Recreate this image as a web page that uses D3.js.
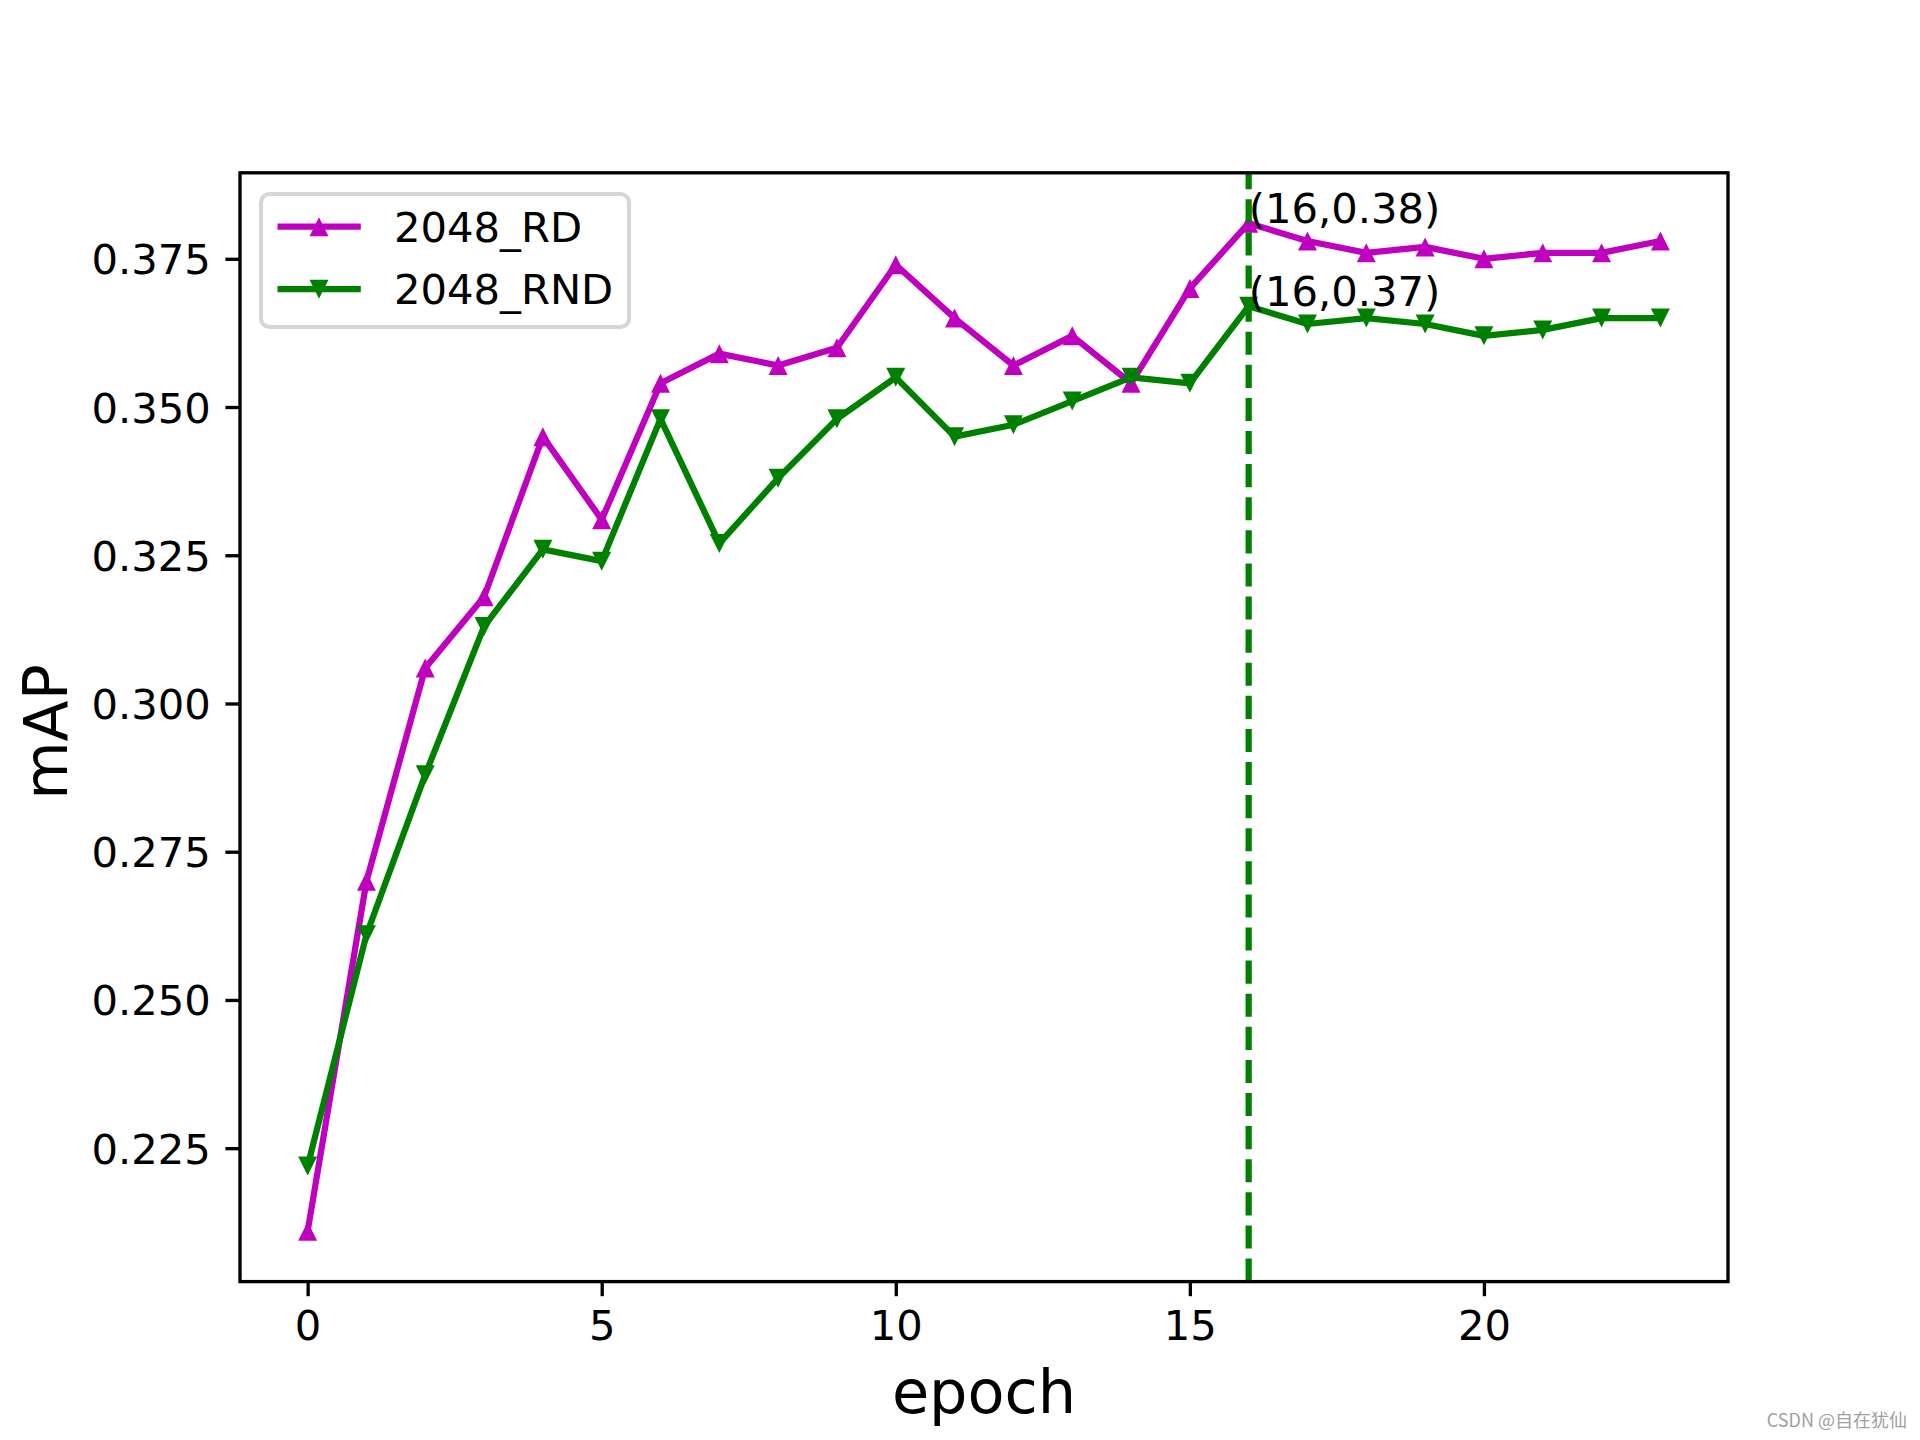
<!DOCTYPE html>
<html>
<head>
<meta charset="utf-8">
<script src="https://d3js.org/d3.v7.min.js"></script>
<style>
body { margin: 0; background: #fff; }
svg text { font-family: 'DejaVu Sans', sans-serif; }
</style>
</head>
<body>
<script>
// data
var epochs = d3.range(0, 24);
var rd  = [0.211, 0.270, 0.306, 0.318, 0.345, 0.331, 0.354, 0.359, 0.357, 0.360, 0.374, 0.365,
           0.357, 0.362, 0.354, 0.370, 0.381, 0.378, 0.376, 0.377, 0.375, 0.376, 0.376, 0.378];
var rnd = [0.222, 0.261, 0.288, 0.313, 0.326, 0.324, 0.348, 0.327, 0.338, 0.348, 0.355, 0.345,
           0.347, 0.351, 0.355, 0.354, 0.367, 0.364, 0.365, 0.364, 0.362, 0.363, 0.365, 0.365];
var seriesNames = ['2048_RD', '2048_RND'];
var xTicks = [0, 5, 10, 15, 20];
var yTicks = [0.225, 0.250, 0.275, 0.300, 0.325, 0.350, 0.375];
var markEpoch = 16;

var W = 1920, H = 1440;
// plot box (note: "top" is a reserved window property, so use other names)
var pLeft = 240, pRight = 1728, pTop = 172.8, pBottom = 1281.6;

var svg = d3.select('body').append('svg')
  .attr('width', W).attr('height', H);

// matplotlib-like 5% margins
var xe = d3.extent(epochs), xp = (xe[1] - xe[0]) * 0.05;
var ye = d3.extent(rd.concat(rnd)), yp = (ye[1] - ye[0]) * 0.05;
var x = d3.scaleLinear().domain([xe[0] - xp, xe[1] + xp]).range([pLeft, pRight]);
var y = d3.scaleLinear().domain([ye[0] - yp, ye[1] + yp]).range([pBottom, pTop]);

var series = [
  {name: seriesNames[0], values: rd,  color: '#bf00bf', up: true},
  {name: seriesNames[1], values: rnd, color: '#008000', up: false}
];

function tri(up, s) {
  // triangle centred on the point
  return up ? 'M0,' + (-s) + 'L' + (-s) + ',' + s + 'L' + s + ',' + s + 'Z'
            : 'M0,' + s + 'L' + (-s) + ',' + (-s) + 'L' + s + ',' + (-s) + 'Z';
}

var line = d3.line().x(function(d, i){ return x(epochs[i]); }).y(function(d){ return y(d); });

series.forEach(function(s) {
  svg.append('path')
    .attr('d', line(s.values))
    .attr('fill', 'none')
    .attr('stroke', s.color)
    .attr('stroke-width', 6.25)
    .attr('stroke-linejoin', 'round');
  svg.selectAll(null)
    .data(s.values)
    .enter()
    .append('path')
    .attr('d', tri(s.up, 9.5))
    .attr('transform', function(d, i){ return 'translate(' + x(epochs[i]) + ',' + y(d) + ')'; })
    .attr('fill', s.color);
});

// vertical dashed marker line
svg.append('line')
  .attr('x1', x(markEpoch)).attr('x2', x(markEpoch))
  .attr('y1', pBottom).attr('y2', pTop)
  .attr('stroke', '#008000')
  .attr('stroke-width', 6.25)
  .attr('stroke-dasharray', '23.1,10');

// annotations
series.forEach(function(s) {
  var v = s.values[epochs.indexOf(markEpoch)];
  svg.append('text')
    .attr('x', x(markEpoch))
    .attr('y', y(v))
    .style('font-size', '41.7px')
    .text('(' + markEpoch + ',' + d3.format('.2f')(v) + ')');
});

// axes
var xAxis = svg.append('g')
  .attr('transform', 'translate(0,' + pBottom + ')')
  .call(d3.axisBottom(x).tickValues(xTicks).tickSize(14.6).tickPadding(14.6).tickFormat(d3.format('d')));
var yAxis = svg.append('g')
  .attr('transform', 'translate(' + pLeft + ',0)')
  .call(d3.axisLeft(y).tickValues(yTicks).tickSize(14.6).tickPadding(14.6).tickFormat(d3.format('.3f')));

[xAxis, yAxis].forEach(function(a) {
  a.select('.domain').remove();
  a.selectAll('line').attr('stroke', '#000').attr('stroke-width', 3.33);
  a.selectAll('text').attr('fill', '#000')
    .style('font-family', 'DejaVu Sans').style('font-size', '41.7px');
});
yAxis.selectAll('text').attr('dy', '0.36em');

// spines
svg.append('rect')
  .attr('x', pLeft).attr('y', pTop)
  .attr('width', pRight - pLeft).attr('height', pBottom - pTop)
  .attr('fill', 'none')
  .attr('stroke', '#000')
  .attr('stroke-width', 3.33);

// axis labels
svg.append('text')
  .attr('x', (pLeft + pRight) / 2)
  .attr('y', 1413)
  .attr('text-anchor', 'middle')
  .style('font-size', '60.5px')
  .text('epoch');

svg.append('text')
  .attr('transform', 'translate(66.5,732)rotate(-90)')
  .attr('text-anchor', 'middle')
  .style('font-size', '60px')
  .text('mAP');

// legend
var lg = svg.append('g');
lg.append('rect')
  .attr('x', 261).attr('y', 194)
  .attr('width', 368).attr('height', 133)
  .attr('rx', 8.3).attr('ry', 8.3)
  .attr('fill', 'white').attr('fill-opacity', 0.8)
  .attr('stroke', '#d6d6d6')
  .attr('stroke-width', 4.17);

series.forEach(function(s, i) {
  var ly = 226.7 + i * 62.5;
  lg.append('line')
    .attr('x1', 277.5).attr('x2', 360.8)
    .attr('y1', ly).attr('y2', ly)
    .attr('stroke', s.color).attr('stroke-width', 6.25);
  lg.append('path')
    .attr('d', tri(s.up, 9.5))
    .attr('transform', 'translate(319,' + ly + ')')
    .attr('fill', s.color);
  lg.append('text')
    .attr('x', 394)
    .attr('y', ly + 15)
    .style('font-size', '41.7px')
    .text(s.name);
});

// watermark
svg.append('text')
  .attr('x', 1907)
  .attr('y', 1427)
  .attr('text-anchor', 'end')
  .attr('fill', '#a0a0a0')
  .style('font-family', "'Noto Sans CJK SC', sans-serif")
  .style('font-size', '18px')
  .text('CSDN @自在犹仙');
</script>
</body>
</html>
